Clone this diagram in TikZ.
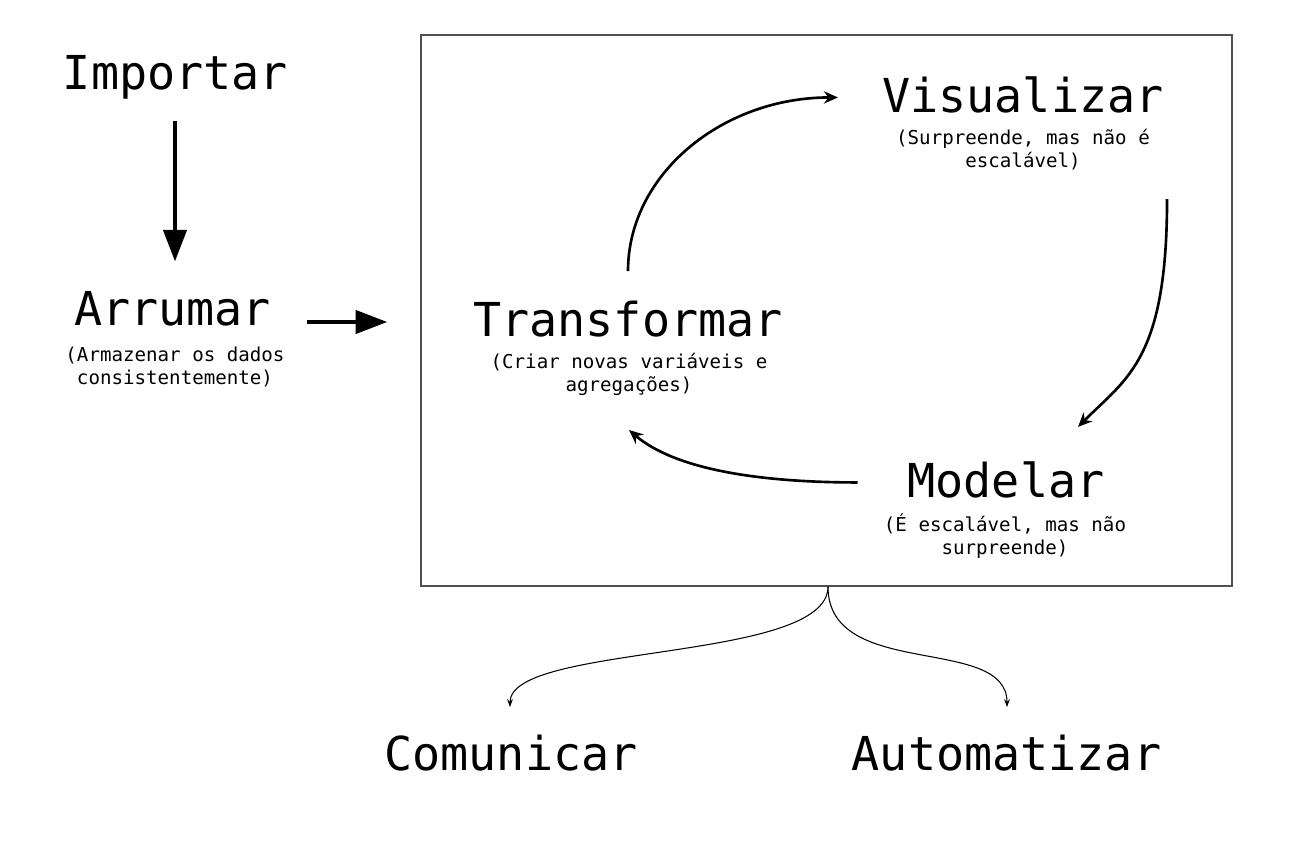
\documentclass[tikz,border=0pt]{standalone}
\usepackage{fontspec}
\setmonofont{DejaVu Sans Mono}
\usetikzlibrary{arrows.meta,calc}
\definecolor{boxgray}{HTML}{505050}
\begin{document}
\begin{tikzpicture}[x=0.02cm,y=-0.02cm,
  title/.style={font=\ttfamily\fontsize{26.6}{32}\selectfont, inner sep=0pt, anchor=base},
  sub/.style={font=\ttfamily\fontsize{10.9}{13.1}\selectfont, inner sep=0pt, anchor=north, align=center},
  bigarrow/.style={line width=2.6pt, -{Triangle[length=18pt,width=13pt]}},
  cyc/.style={line width=1.5pt, -{Stealth[length=8pt,width=7pt]}},
  thinarrow/.style={line width=0.6pt, -{Stealth[length=4.5pt,width=3.2pt]}}]
\useasboundingbox (0,0) rectangle (1295,841);

% frame
\node (box) [draw=boxgray, line width=0.85pt, minimum width=16.22cm, minimum height=11.02cm, inner sep=0pt] at (826.5,310.5) {};

% titles
\node (imp) [title] at (175.5,90) {Importar};
\node (arr) [title] at (172.5,325) {Arrumar};
\node (arrsub) [sub] at (175,346.5) {(Armazenar os dados\\consistentemente)};
\node (vis) [title] at (1023,113) {Visualizar};
\node (vissub) [sub] at (1023,128.5) {(Surpreende, mas não é\\escalável)};
\node (trans) [title] at (628,337) {Transformar};
\node (transsub) [sub] at (629,352.5) {(Criar novas variáveis e\\agregações)};
\node (mod) [title] at (1006,497) {Modelar};
\node (modsub) [sub] at (1005,513.5) {(É escalável, mas não\\surpreende)};
\node (com) [title] at (511,770) {Comunicar};
\node (aut) [title] at (1006.5,770) {Automatizar};

% straight arrows
\draw[bigarrow] ($(imp.south)+(-0.5,21)$) -- ($(imp.south |- arr.north)+(-0.5,-29)$);
\draw[bigarrow] ($(arr.base east)+(36,-3)$) -- ($(box.west |- arr.base)+(-33,-3)$);

% cycle
\draw[cyc] ($(trans.north)+(0,-30)$) .. controls +(0,-96.6) and +(-116,0) .. ($(vis.west)+(-44,2)$);
\draw[cyc] ($(vis.south east)+(3,85)$) .. controls +(0,160) and +(49,-49) .. ($(mod.north)+(72,-34)$);
\draw[cyc] ($(mod.west)+(-49.5,3)$) .. controls +(-100,0) and +(45.6,39) .. ($(trans.south)+(1,92)$);

% outputs
\draw[thinarrow] ($(box.south)+(1.5,0)$) .. controls +(0,76) and +(0,-64) .. ($(com.north)+(-1,-27)$);
\draw[thinarrow] ($(box.south)+(1.5,0)$) .. controls +(0,94) and +(0,-73) .. ($(aut.north)+(0.5,-27)$);
\end{tikzpicture}
\end{document}
